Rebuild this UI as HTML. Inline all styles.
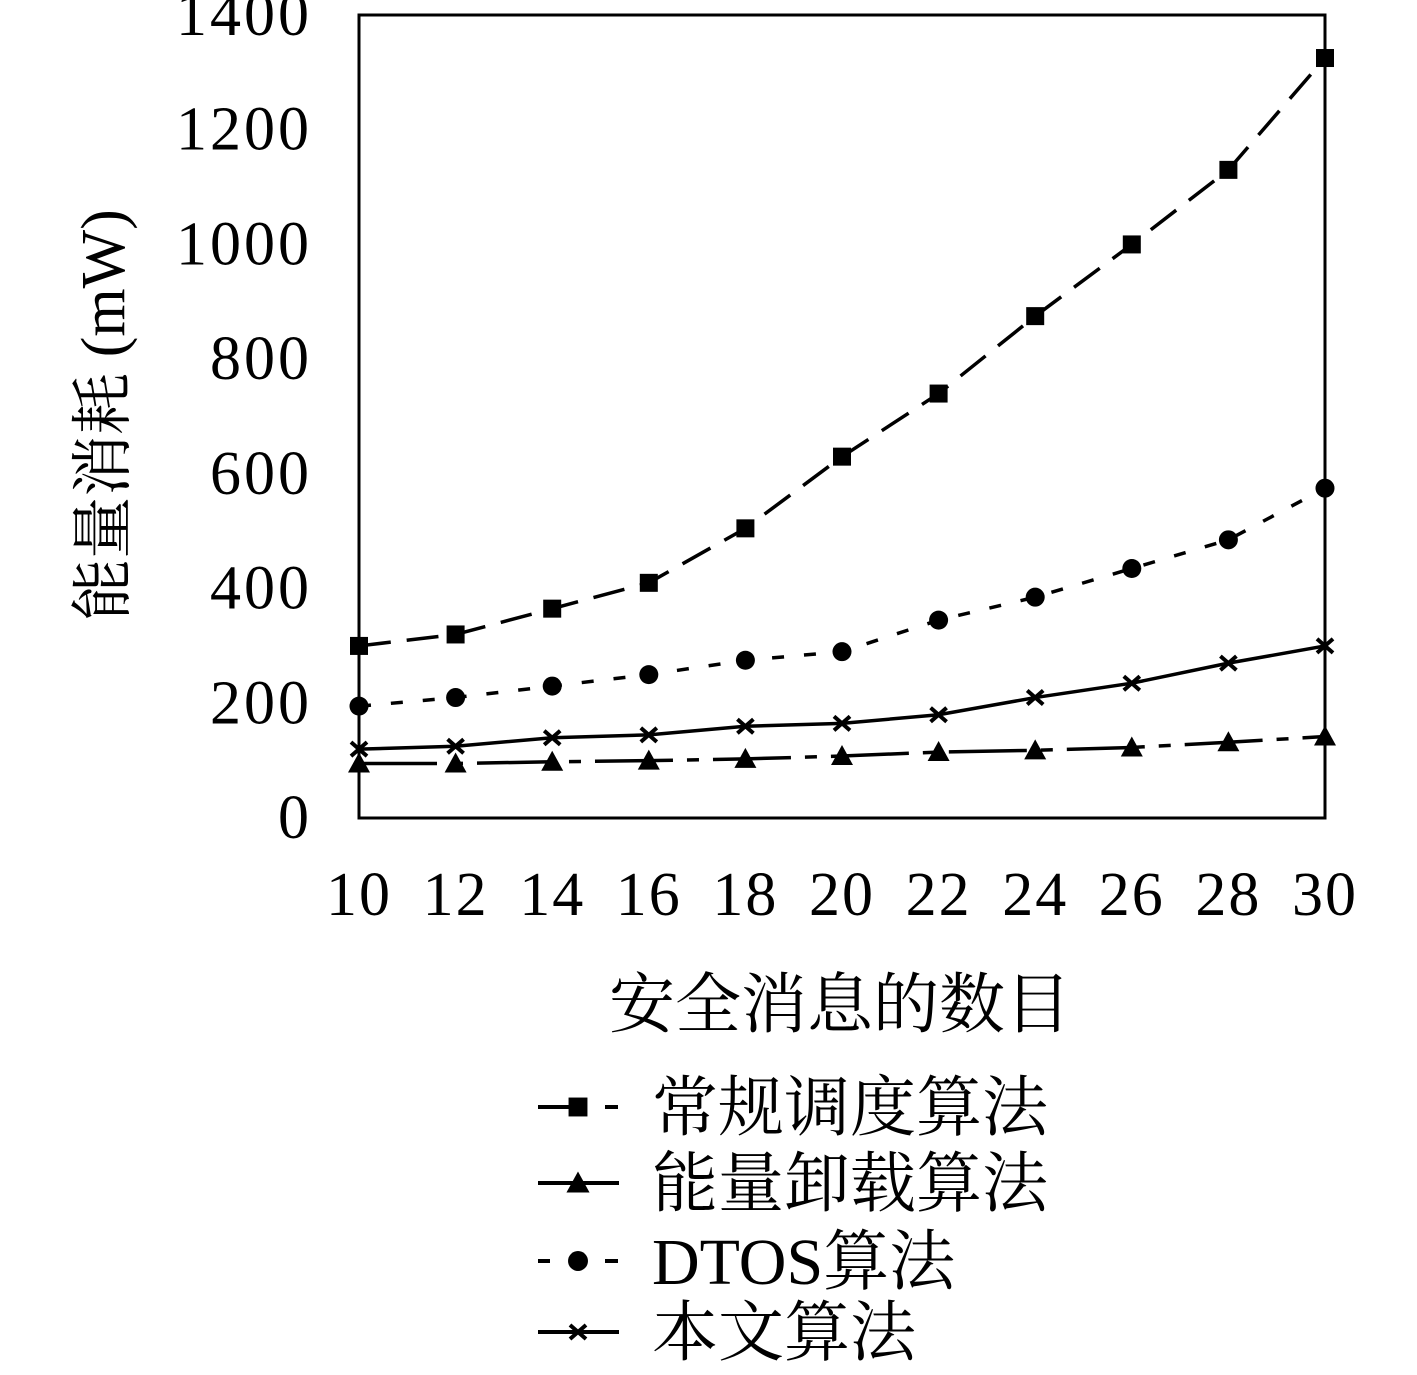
<!DOCTYPE html>
<html><head><meta charset="utf-8"><style>
body{margin:0;background:#fff}
svg text{font-family:"Liberation Serif","Noto Serif CJK SC",serif;fill:#000}
</style></head><body>
<svg width="1417" height="1370" viewBox="0 0 1417 1370">
<g id="axes"></g><g id="series"></g>
<g id="legend"></g>
</svg>
<script>
const categories=[10,12,14,16,18,20,22,24,26,28,30];
const yTicks=[0,200,400,600,800,1000,1200,1400];
const seriesNames=["常规调度算法","能量卸载算法","DTOS算法","本文算法"];
const conventional=[300,320,365,410,505,630,740,875,1000,1130,1325];
const offload=[95,95,98,100,103,108,115,118,123,132,142];
const dtos=[195,210,230,250,275,290,345,385,435,485,575];
const proposed=[120,125,140,145,160,165,180,210,235,270,300];
const NS="http://www.w3.org/2000/svg";
const X0=359,X1=1325,Y0=818,Y1=15;
const xs=v=>X0+(v-10)/20*(X1-X0);
const ys=v=>Y0-v/1400*(Y0-Y1);
function mk(t,a,p){const e=document.createElementNS(NS,t);for(const k in a)e.setAttribute(k,a[k]);p.appendChild(e);return e;}
const ax=document.getElementById('axes'),sg=document.getElementById('series'),lg=document.getElementById('legend');
const frame=mk('rect',{x:X0,y:Y1,width:X1-X0,height:Y0-Y1,fill:'none',stroke:'#000','stroke-width':3},ax);


categories.forEach(c=>{
 const l=mk('text',{x:xs(c),y:915,'text-anchor':'middle','font-size':62,'letter-spacing':2},ax);l.textContent=c;
 
 
});
yTicks.forEach(v=>{
 const l=mk('text',{x:312,y:ys(v)+20,'text-anchor':'end','font-size':62,'letter-spacing':3},ax);l.textContent=v;
 
 
});
const xt=mk('text',{x:840,y:1027,'text-anchor':'middle','font-size':66},ax);xt.textContent='安全消息的数目';


const yt=mk('text',{x:0,y:0,'text-anchor':'middle','font-size':62,transform:'translate(124,415) rotate(-90)'},ax);yt.textContent='能量消耗 (mW)';


function marker(type,x,y,p,s){
 s=s||1;let e;
 if(type==='sq')e=mk('rect',{x:x-9*s,y:y-9*s,width:18*s,height:18*s,fill:'#000'},p);
 else if(type==='tri')e=mk('polygon',{points:`${x},${y-11*s} ${x-11*s},${y+9*s} ${x+11*s},${y+9*s}`,fill:'#000'},p);
 else if(type==='cir')e=mk('circle',{cx:x,cy:y,r:9.5*s,fill:'#000'},p);
 else{e=mk('path',{d:`M${x-8*s},${y-7*s}L${x+8*s},${y+7*s}M${x-8*s},${y+7*s}L${x+8*s},${y-7*s}`,stroke:'#000','stroke-width':4},p);}
 return e;
}
const cfg=[[conventional,'sq','32 16'],[offload,'tri','78 14 12 14'],[dtos,'cir','12 20'],[proposed,'x','none']];
cfg.forEach(([d,m,dash],i)=>{
 const g=mk('g',{},sg);
 
 
 const pl=mk('polyline',{points:d.map((v,j)=>xs(categories[j])+','+ys(v)).join(' '),fill:'none',stroke:'#000','stroke-width':3.5,'stroke-dasharray':dash},g);
 
 
 d.forEach((v,j)=>{const mm=marker(m,xs(categories[j]),ys(v),g);
  
  });
 const ly=[1107,1183,1261,1332][i];
 const lgEntry=mk('g',{},lg);
 
 
 if(m==='sq'){mk('line',{x1:538,x2:578,y1:ly,y2:ly,stroke:'#000','stroke-width':4},lgEntry);mk('line',{x1:605,x2:618,y1:ly,y2:ly,stroke:'#000','stroke-width':4},lgEntry);}
 else if(m==='cir'){mk('line',{x1:538,x2:550,y1:ly,y2:ly,stroke:'#000','stroke-width':4},lgEntry);mk('line',{x1:605,x2:618,y1:ly,y2:ly,stroke:'#000','stroke-width':4},lgEntry);}
 else mk('line',{x1:538,x2:619,y1:ly,y2:ly,stroke:'#000','stroke-width':4},lgEntry);
 marker(m,578,ly,lgEntry,m==='x'?1:1.05);
 const lt=mk('text',{x:652,y:ly+23,'font-size':66},lgEntry);lt.textContent=seriesNames[i];
});
</script>
</body></html>
